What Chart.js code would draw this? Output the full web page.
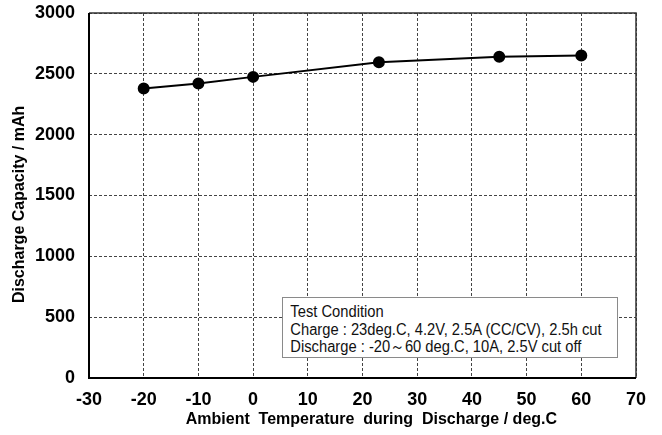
<!DOCTYPE html>
<html>
<head>
<meta charset="utf-8">
<script src="https://cdn.jsdelivr.net/npm/chart.js@4/dist/chart.umd.min.js"></script>
<style>
  html, body { margin: 0; padding: 0; background: #fff; }
  #wrap { position: relative; width: 662px; height: 435px; }
  #note {
    position: absolute; left: 282px; top: 297px; width: 334px; height: 59px;
    background: #fff; border: 1px solid #8a8a8a;
    font-family: "Liberation Sans", Arial, sans-serif;
    font-size: 16px; line-height: 17.5px; color: #111;
  }
  #note div { padding-left: 8px; white-space: nowrap; transform: scaleX(0.92); transform-origin: 0 50%; }
  #note div:first-child { margin-top: 5px; }
</style>
</head>
<body>
<div id="wrap">
  <canvas id="chart" width="662" height="435"></canvas>
  <div id="note">
    <div>Test Condition</div>
    <div>Charge : 23deg.C, 4.2V, 2.5A (CC/CV), 2.5h cut</div>
    <div>Discharge : -20～60 deg.C, 10A, 2.5V cut off</div>
  </div>
</div>
<script>
// temperature (deg.C) vs discharge capacity (mAh)
const temps = [-20, -10, 0, 23, 45, 60];
const capacity = [2380, 2420, 2475, 2595, 2640, 2650];
const xTicks = [-30, -20, -10, 0, 10, 20, 30, 40, 50, 60, 70];
const yTicks = [0, 500, 1000, 1500, 2000, 2500, 3000];

const tickFont = { family: '"Liberation Sans", Arial, sans-serif', size: 18, weight: 'bold' };
const titleFont = { family: '"Liberation Sans", Arial, sans-serif', size: 16, weight: 'bold' };
const gridBorder = { display: false, dash: [3, 2] };

// frame round the plot area
const frame = {
    id: 'frame',
    afterDraw(chart) {
        const { ctx, chartArea: a } = chart;
        ctx.save();
        ctx.strokeStyle = '#333'; ctx.lineWidth = 1.5;
        ctx.beginPath();
        ctx.moveTo(a.left, a.top); ctx.lineTo(a.right, a.top); ctx.lineTo(a.right, a.bottom);
        ctx.stroke();
        ctx.strokeStyle = '#000'; ctx.lineWidth = 2;
        ctx.beginPath();
        ctx.moveTo(a.left, a.top); ctx.lineTo(a.left, a.bottom); ctx.lineTo(a.right, a.bottom);
        ctx.stroke();
        ctx.restore();
    }
};

new Chart(document.getElementById('chart'), {
    type: 'line',
    data: {
        datasets: [{
            data: temps.map((t, i) => ({ x: t, y: capacity[i] })),
            borderColor: '#000', borderWidth: 2,
            pointRadius: 5, pointBackgroundColor: '#000', pointBorderColor: '#000',
            tension: 0
        }]
    },
    options: {
        responsive: false, animation: false,
        layout: { padding: { top: 13, right: 26, left: 0, bottom: 0 } },
        plugins: { legend: { display: false }, tooltip: { enabled: false } },
        scales: {
            x: {
                type: 'linear', min: xTicks[0], max: xTicks[xTicks.length - 1],
                afterBuildTicks: s => { s.ticks = xTicks.map(v => ({ value: v })); },
                afterFit: s => { s.height = 57; },
                ticks: { font: tickFont, color: '#000', padding: 11, maxRotation: 0, callback: v => String(v) },
                grid: { color: '#444', lineWidth: 1, drawTicks: false },
                border: gridBorder,
                title: { display: true, text: '    Ambient  Temperature  during  Discharge / deg.C', font: titleFont, color: '#000', padding: { top: 0, bottom: 6 } }
            },
            y: {
                min: yTicks[0], max: yTicks[yTicks.length - 1],
                afterBuildTicks: s => { s.ticks = yTicks.map(v => ({ value: v })); },
                afterFit: s => { s.width = 89; },
                // invisible tick marks give the label gap without padding the top
                ticks: { font: tickFont, color: '#000', padding: 0, callback: v => String(v) },
                grid: { color: '#444', lineWidth: 1, drawTicks: true, tickLength: 14, tickColor: 'rgba(0,0,0,0)' },
                border: gridBorder,
                title: { display: true, text: 'Discharge Capacity / mAh    ', font: titleFont, color: '#000', padding: { top: 10, bottom: 0 } }
            }
        }
    },
    plugins: [frame]
});
</script>
</body>
</html>
